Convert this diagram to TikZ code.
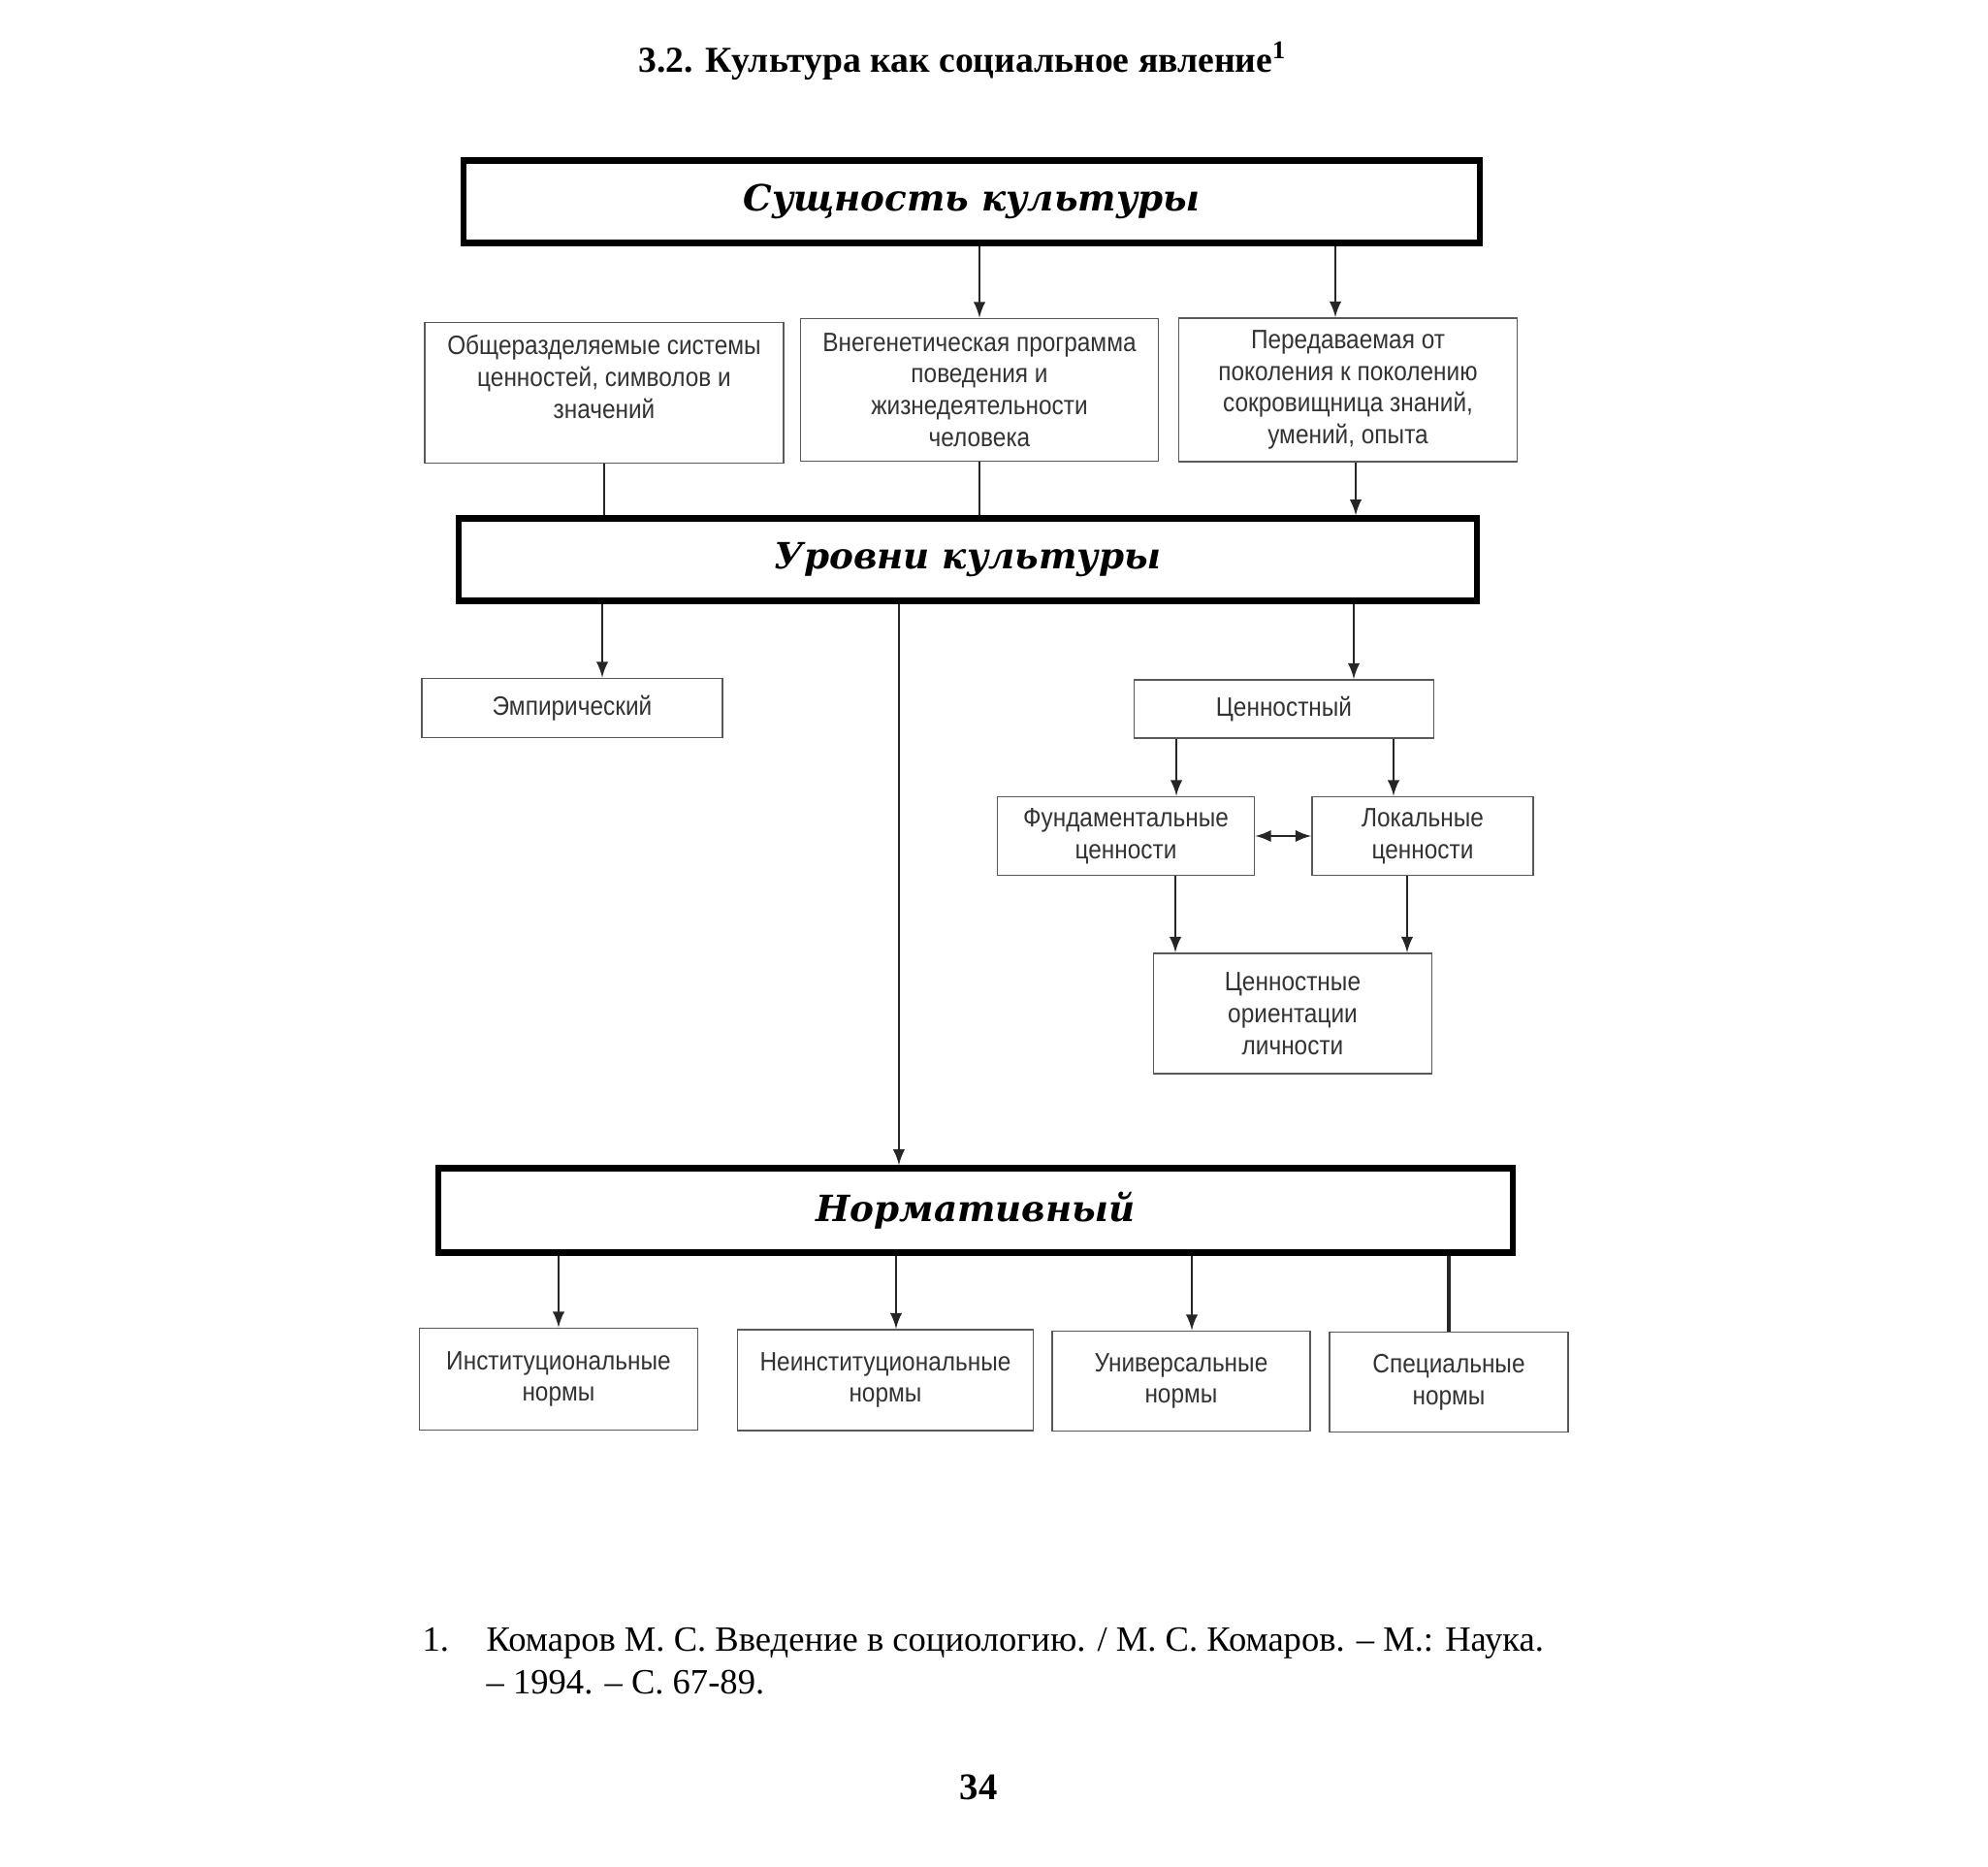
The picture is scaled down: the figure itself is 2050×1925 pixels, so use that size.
\documentclass[tikz,border=0pt]{standalone}
\usepackage{fontspec}
\setmainfont{Liberation Serif}
\newfontfamily\boxfamily{Liberation Sans}[FakeStretch=0.89]
\newfontfamily\headfamily{DejaVu Serif}
\usetikzlibrary{positioning}
\newcommand{\hdfont}{\headfamily\bfseries\itshape\fontsize{10.6}{13}\selectfont}
\newcommand{\bxfont}{\boxfamily\fontsize{7.8}{9.3}\selectfont}

\begin{document}
\begin{tikzpicture}[x=0.01cm, y=-0.01cm, >=latex,
    head/.style={draw, line width=1.8pt, font=\hdfont, minimum height=0.85cm},
    box/.style={draw=black!65, line width=0.5pt, text=black!80, font=\bxfont, align=center},
    link/.style={draw=black!85, line width=0.6pt}]
    \useasboundingbox (0,0) rectangle (2050,1925);

    % Title
    \node[anchor=west, inner xsep=0pt, font=\bfseries\fontsize{10.7}{13}\selectfont] (title) at (658,63)
        {3.2. Культура как социальное явление\textsuperscript{1}};

    % Main levels
    \node[head, minimum width=10.48cm] (sush) at (1002,208) {Сущность культуры};
    \node[head, minimum width=10.50cm] (urov) at (998,577) {Уровни культуры};
    \node[head, minimum width=11.08cm, minimum height=0.87cm] (norm) at (1006,1248) {Нормативный};

    % Essence of culture
    \node[box, minimum width=3.70cm, minimum height=1.45cm] (obsh) at (623,405)
        {Общеразделяемые системы\\ценностей, символов и\\значений\\~};
    \node[box, minimum width=3.69cm, minimum height=1.47cm] (vneg) at (1010,402)
        {Внегенетическая программа\\поведения и\\жизнедеятельности\\человека};
    \node[box, minimum width=3.49cm, minimum height=1.48cm] (pered) at (1390,402)
        {Передаваемая от\\поколения к поколению\\сокровищница знаний,\\умений, опыта};

    % Levels
    \node[box, minimum width=3.10cm, minimum height=0.61cm] (emp) at (590,730) {Эмпирический};
    \node[box, minimum width=3.09cm, minimum height=0.60cm] (cenn) at (1324,731) {Ценностный};
    \node[box, minimum width=2.65cm, minimum height=0.81cm] (fund) at (1161,862) {Фундаментальные\\ценности};
    \node[box, minimum width=2.28cm, minimum height=0.81cm] (lok) at (1467,862) {Локальные\\ценности};
    \node[box, minimum width=2.87cm, minimum height=1.24cm] (orient) at (1333,1045) {Ценностные\\ориентации\\личности};

    % Norms
    \node[box, minimum width=2.87cm, minimum height=1.05cm] (inst) at (576,1422) {Институциональные\\нормы};
    \node[box, minimum width=3.05cm, minimum height=1.04cm] (neinst) at (913,1423) {Неинституциональные\\нормы};
    \node[box, minimum width=2.66cm, minimum height=1.03cm] (univ) at (1218,1424) {Универсальные\\нормы};
    \node[box, minimum width=2.46cm, minimum height=1.03cm] (spec) at (1494,1425) {Специальные\\нормы};

    % Arrows
    \draw[link, ->] (vneg.north |- sush.south) -- (vneg.north);
    \draw[link, ->] ([xshift=-1.3mm]pered.north |- sush.south) -- ([xshift=-1.3mm]pered.north);
    \draw[link] (obsh.south) -- (obsh.south |- urov.north);
    \draw[link] (vneg.south) -- (vneg.south |- urov.north);
    \draw[link, ->] ([xshift=0.8mm]pered.south) -- ([xshift=0.8mm]pered.south |- urov.north);
    \draw[link, ->] ([xshift=3.1mm]emp.north |- urov.south) -- ([xshift=3.1mm]emp.north);
    \draw[link, ->] ([xshift=-7.9mm]norm.north |- urov.south) -- ([xshift=-7.9mm]norm.north);
    \draw[link, ->] ([xshift=7.2mm]cenn.north |- urov.south) -- ([xshift=7.2mm]cenn.north);
    \draw[link, ->] ([xshift=5.2mm]fund.north |- cenn.south) -- ([xshift=5.2mm]fund.north);
    \draw[link, ->] ([xshift=-3mm]lok.north |- cenn.south) -- ([xshift=-3mm]lok.north);
    \draw[link, <->] (fund) -- (lok);
    \draw[link, ->] ([xshift=5.1mm]fund.south) -- ([xshift=5.1mm]fund.south |- orient.north);
    \draw[link, ->] ([xshift=-1.6mm]lok.south) -- ([xshift=-1.6mm]lok.south |- orient.north);
    \draw[link, ->] (inst.north |- norm.south) -- (inst.north);
    \draw[link, ->] ([xshift=1.1mm]neinst.north |- norm.south) -- ([xshift=1.1mm]neinst.north);
    \draw[link, ->] ([xshift=1.1mm]univ.north |- norm.south) -- ([xshift=1.1mm]univ.north);
    \draw[link, line width=1.2pt] (spec.north |- norm.south) -- (spec.north);

    % Footnote
    \node[anchor=base west, inner xsep=0pt, font=\fontsize{10.4}{12.5}\selectfont] (fnum) at (435,1703) {1.};
    \node[anchor=base west, inner xsep=0pt, font=\fontsize{10.4}{12.5}\selectfont] (fnote) at (501,1703)
        {\begin{tabular}[t]{@{}l@{}}Комаров М. С. Введение в социологию. / М. С. Комаров. – М.: Наука.\\– 1994. – С. 67-89.\end{tabular}};
    \node[font=\bfseries\fontsize{11}{13}\selectfont] (page) at (1009,1843) {34};
\end{tikzpicture}
\end{document}
